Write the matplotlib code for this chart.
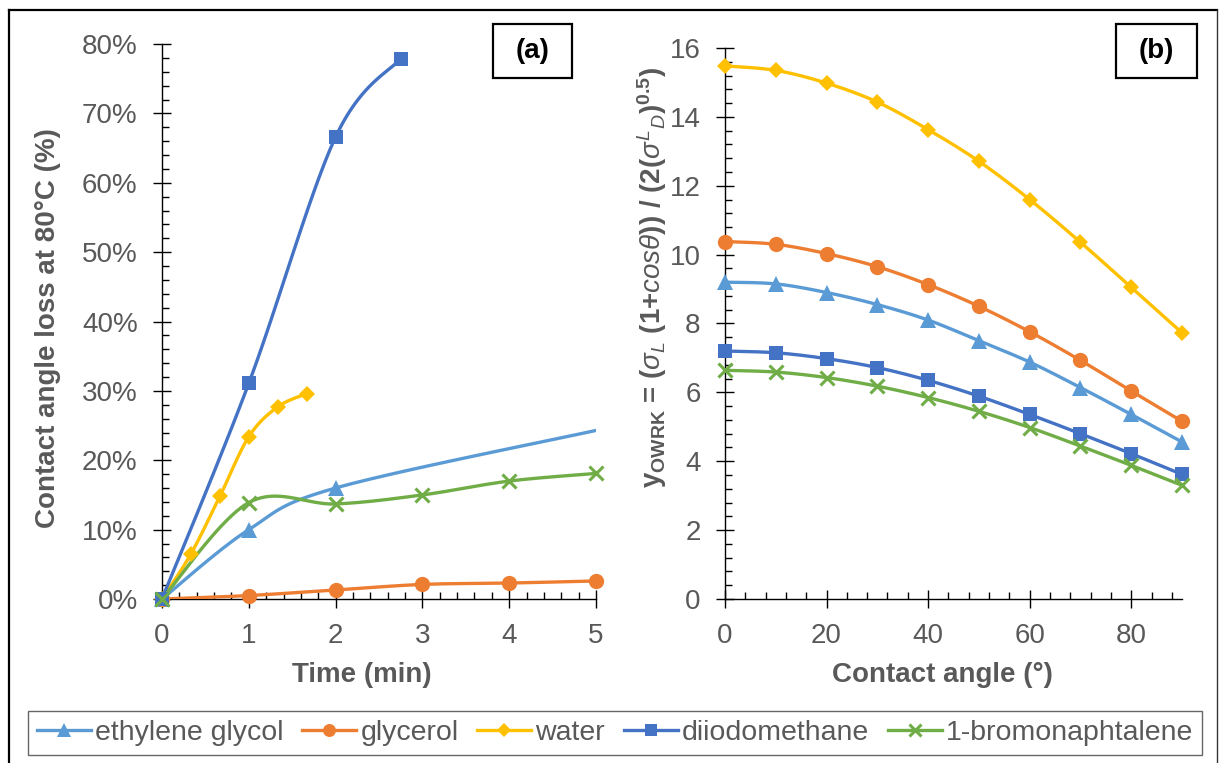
import matplotlib
matplotlib.use("Agg")
import matplotlib.pyplot as plt
import numpy as np
from matplotlib.lines import Line2D
from matplotlib.patches import Rectangle
from matplotlib.ticker import MultipleLocator, PercentFormatter

plt.rcParams["font.family"] = ["Liberation Sans", "DejaVu Sans"]
plt.rcParams["mathtext.fontset"] = "custom"
plt.rcParams["mathtext.rm"] = "Liberation Sans:bold"
plt.rcParams["mathtext.it"] = "Liberation Sans:italic"
plt.rcParams["mathtext.bf"] = "Liberation Sans:bold"

GREY = "#595959"
W, H = 1221, 763

# (a) contact angle loss at 80 °C against time (fraction)
eg_t = [0, 1, 2, 5]
eg_loss = [0.0, 0.100, 0.160, 0.243]
gly_t = [0, 1, 2, 3, 4, 5]
gly_loss = [0.0, 0.005, 0.013, 0.021, 0.023, 0.026]
water_t = [0, 1 / 3, 2 / 3, 1, 4 / 3, 5 / 3]
water_loss = [0.0, 0.065, 0.148, 0.234, 0.277, 0.296]
dim_t = [0, 1, 2, 2.75]
dim_loss = [0.0, 0.311, 0.666, 0.779]
bn_t = [0, 1, 2, 3, 4, 5]
bn_loss = [0.0, 0.139, 0.137, 0.150, 0.170, 0.181]

# (b) y_OWRK against contact angle
theta = [0, 10, 20, 30, 40, 50, 60, 70, 80, 90]
eg_y = [9.20, 9.15, 8.90, 8.55, 8.10, 7.50, 6.88, 6.14, 5.36, 4.56]
gly_y = [10.38, 10.30, 10.03, 9.65, 9.13, 8.50, 7.76, 6.93, 6.04, 5.16]
water_y = [15.48, 15.35, 14.98, 14.43, 13.63, 12.71, 11.60, 10.36, 9.05, 7.73]
dim_y = [7.20, 7.15, 6.98, 6.72, 6.35, 5.89, 5.36, 4.80, 4.22, 3.62]
bn_y = [6.64, 6.59, 6.43, 6.18, 5.85, 5.45, 4.98, 4.44, 3.88, 3.30]

names = ["ethylene glycol", "glycerol", "water", "diiodomethane", "1-bromonaphtalene"]
colors = ["#5B9BD5", "#ED7D31", "#FFC000", "#4472C4", "#70AD47"]
markers = ["^", "o", "D", "s", "x"]
msizes = [12, 11, 8.5, 10.5, 10]


def smooth(x, y, n=40):
    # Bezier smoothing through every point (spreadsheet style "smoothed line")
    p = np.column_stack([x, y]).astype(float)
    p = np.vstack([p[0], p, p[-1]])
    out = [p[1]]
    s = np.linspace(0, 1, n)[1:, None]
    for i in range(1, len(p) - 2):
        p0, p1, p2, p3 = p[i - 1], p[i], p[i + 1], p[i + 2]
        c1 = p1 + (p2 - p0) / 6
        c2 = p2 - (p3 - p1) / 6
        seg = (1 - s) ** 3 * p1 + 3 * (1 - s) ** 2 * s * c1 + 3 * (1 - s) * s ** 2 * c2 + s ** 3 * p2
        out.extend(seg)
    out = np.array(out)
    return out[:, 0], out[:, 1]


def series(ax, x, y, k, marked=None):
    xs, ys = smooth(x, y)
    ax.plot(xs, ys, color=colors[k], lw=2.4, solid_capstyle="round", zorder=3)
    x = np.asarray(x)
    y = np.asarray(y)
    if marked is not None:
        x, y = x[:marked], y[:marked]
    mew = 2.2 if markers[k] == "x" else 0
    ax.plot(x, y, ls="none", marker=markers[k], ms=msizes[k], color=colors[k],
            mec=colors[k], mew=mew, clip_on=False, zorder=4)


def style(ax):
    for side in ("top", "right"):
        ax.spines[side].set_visible(False)
    for side in ("left", "bottom"):
        ax.spines[side].set_linewidth(1.0)
        ax.spines[side].set_color("black")
    ax.tick_params(which="major", direction="inout", length=13, width=1,
                   color="black", labelcolor=GREY, labelsize=20, pad=11)
    ax.tick_params(which="minor", direction="in", length=5, width=1, color="black")


fig = plt.figure(figsize=(W / 100, H / 100), dpi=100)

# panel (a)
ax1 = fig.add_axes([162 / W, 1 - 599 / H, 434 / W, 555 / H])
series(ax1, eg_t, eg_loss, 0, marked=3)
series(ax1, gly_t, gly_loss, 1)
series(ax1, water_t, water_loss, 2)
series(ax1, dim_t, dim_loss, 3)
series(ax1, bn_t, bn_loss, 4)
ax1.set_xlim(0, 5)
ax1.set_ylim(0, 0.8)
ax1.xaxis.set_major_locator(MultipleLocator(1))
ax1.xaxis.set_minor_locator(MultipleLocator(0.2))
ax1.yaxis.set_major_locator(MultipleLocator(0.1))
ax1.yaxis.set_minor_locator(MultipleLocator(0.02))
ax1.yaxis.set_major_formatter(PercentFormatter(1.0, decimals=0))
style(ax1)
ax1.set_xlabel("Time (min)", fontsize=20, fontweight="bold", color=GREY)
ax1.set_ylabel("Contact angle loss at 80°C (%)", fontsize=20, fontweight="bold", color=GREY)
ax1.xaxis.set_label_coords(0.46, -0.137)
ax1.xaxis.label.set_va("center")
ax1.yaxis.set_label_coords(-0.263, 0.488)
ax1.yaxis.label.set_va("center")

# panel (b)
ax2 = fig.add_axes([725 / W, 1 - 599 / H, 457 / W, 551 / H])
series(ax2, theta, eg_y, 0)
series(ax2, theta, gly_y, 1)
series(ax2, theta, water_y, 2)
series(ax2, theta, dim_y, 3)
series(ax2, theta, bn_y, 4)
ax2.set_xlim(0, 90)
ax2.set_ylim(0, 16)
ax2.xaxis.set_major_locator(MultipleLocator(20))
ax2.xaxis.set_minor_locator(MultipleLocator(4))
ax2.yaxis.set_major_locator(MultipleLocator(2))
ax2.yaxis.set_minor_locator(MultipleLocator(0.4))
style(ax2)
ax2.set_xlabel("Contact angle (°)", fontsize=20, fontweight="bold", color=GREY)
ax2.set_ylabel(r"y$_{\mathrm{OWRK}}$ = ($\sigma_{L}$ (1+$cos\theta$)) / "
               r"(2($\sigma^{L}{}_{D}$)$^{\mathrm{0.5}}$)",
               fontsize=20, fontweight="bold", color=GREY)
ax2.xaxis.set_label_coords(0.475, -0.138)
ax2.xaxis.label.set_va("center")
ax2.yaxis.set_label_coords(-0.16, 0.584)
ax2.yaxis.label.set_va("center")

# panel tags
for label, x0, x1 in (("(a)", 493, 572), ("(b)", 1116, 1197)):
    fig.add_artist(Rectangle((x0 / W, 1 - 78 / H), (x1 - x0) / W, 54 / H,
                             transform=fig.transFigure, fill=False, ec="black", lw=1.6))
    fig.text((x0 + x1) / 2 / W, 1 - 51 / H, label, ha="center", va="center",
             fontsize=20, fontweight="bold", color="black")

# outer frame
fig.add_artist(Line2D([8.5 / W, 8.5 / W], [0, 1 - 10 / H], transform=fig.transFigure,
                      color="black", lw=1.6))
fig.add_artist(Line2D([8.5 / W, 1217 / W], [1 - 10 / H, 1 - 10 / H], transform=fig.transFigure,
                      color="black", lw=1.6))
fig.add_artist(Line2D([1217 / W, 1217 / W], [0, 1 - 10 / H], transform=fig.transFigure,
                      color="#333333", lw=1.0))

# legend along the bottom
handles = [Line2D([], [], color=c, lw=2.4, marker=m, ms=ms * 0.85, mec=c,
                  mew=(2.2 if m == "x" else 0))
           for c, m, ms in zip(colors, markers, msizes)]
leg = fig.legend(handles, names, loc="center", ncol=5, mode="expand",
                 bbox_to_anchor=(28 / W, 1 - 757 / H, 1174 / W, 48 / H),
                 fontsize=20.5, handlelength=1.9, handletextpad=0.15, columnspacing=0.4,
                 borderaxespad=0, borderpad=0.3, fancybox=False, frameon=True,
                 edgecolor="#404040", labelcolor=GREY)
leg.get_frame().set_linewidth(1.0)

fig.savefig("out.png", dpi=100)
